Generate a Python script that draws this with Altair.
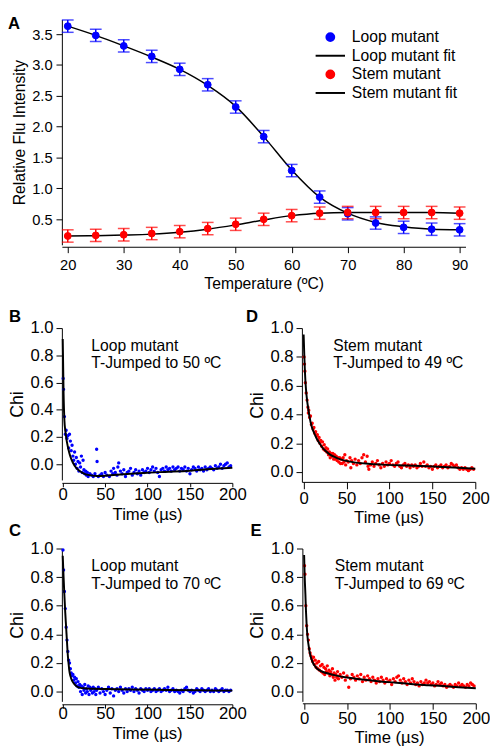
import altair as alt
import pandas as pd

FONT = "Liberation Sans"
BLUE = "#0000ff"
RED = "#ff0000"

# ---------------- Panel A data ----------------
temps = [20, 25, 30, 35, 40, 45, 50, 55, 60, 65, 70, 75, 80, 85, 90]
loop_vals = [3.63, 3.48, 3.31, 3.14, 2.93, 2.68, 2.32, 1.84, 1.29, 0.86, 0.59, 0.44, 0.37, 0.34, 0.33]
loop_err = [0.10, 0.10, 0.10, 0.10, 0.10, 0.10, 0.10, 0.10, 0.10, 0.10, 0.10, 0.10, 0.10, 0.10, 0.10]
loop_fit = [3.63, 3.48, 3.31, 3.13, 2.93, 2.67, 2.33, 1.84, 1.30, 0.86, 0.60, 0.45, 0.38, 0.34, 0.33]
stem_vals = [0.23, 0.24, 0.25, 0.27, 0.30, 0.35, 0.42, 0.50, 0.56, 0.60, 0.61, 0.61, 0.61, 0.61, 0.60]
stem_err = [0.10, 0.10, 0.10, 0.10, 0.10, 0.10, 0.10, 0.10, 0.10, 0.10, 0.10, 0.10, 0.10, 0.10, 0.10]
stem_fit = [0.23, 0.235, 0.245, 0.26, 0.29, 0.34, 0.41, 0.49, 0.56, 0.60, 0.61, 0.61, 0.61, 0.61, 0.60]
series_names = ["Loop mutant", "Stem mutant"]
legend_names = ["Loop mutant", "Loop mutant fit", "Stem mutant", "Stem mutant fit"]

# ---------------- Panel B data (Loop mutant, 50 C) ----------------
b_time = [0.5, 1, 2, 3, 4, 5, 6, 7, 8, 9, 10, 11, 12, 13, 14, 15, 16, 17, 18, 19, 20, 21, 22, 23, 24, 25,
          26, 27, 28, 29, 30, 32, 34, 36, 38, 40, 40.5, 42, 44, 46, 48, 50, 52, 55, 57, 59, 60, 62, 64, 65,
          66, 68, 70, 72, 74, 76, 78, 80, 82, 84, 86, 88, 90, 92, 94, 96, 98, 100, 102, 104, 106, 108, 110,
          112, 114, 116, 118, 120, 122, 124, 126, 128, 130, 132, 134, 136, 138, 140, 142, 144, 146, 148, 150,
          152, 154, 156, 158, 160, 162, 164, 166, 168, 170, 172, 174, 176, 178, 180, 182, 184, 186, 188, 190,
          192, 194, 196, 198]
b_chi = [0.63, 0.55, 0.35, 0.22, 0.25, 0.19, 0.21, 0.12, 0.22, 0.17, 0.10, 0.14, 0.06, 0.03, 0.09, 0.00,
         0.05, -0.03, 0.02, -0.05, 0.01, -0.02, 0.06, -0.06, 0.03, -0.04, -0.07, -0.05, -0.08, -0.06, -0.09,
         -0.07, -0.08, -0.09, -0.07, 0.11, 0.02, -0.09, -0.08, -0.07, -0.09, -0.06, -0.08, -0.09, -0.05,
         -0.07, -0.03, -0.06, -0.08, -0.02, 0.01, -0.05, -0.07, -0.04, -0.09, -0.06, -0.05, -0.03, -0.08,
         -0.06, -0.04, -0.07, -0.05, -0.08, -0.04, -0.06, -0.05, -0.03, -0.06, -0.04, -0.02, -0.05, -0.03,
         -0.06, -0.09, -0.04, -0.03, -0.05, -0.02, -0.04, -0.03, -0.05, -0.02, -0.04, -0.03, -0.02, -0.05,
         -0.03, -0.04, -0.02, -0.05, -0.03, -0.07, -0.04, -0.02, -0.03, -0.05, -0.02, -0.04, -0.03, -0.05,
         -0.02, -0.04, -0.03, -0.02, -0.03, -0.04, -0.01, -0.03, -0.02, 0.00, -0.03, -0.01, 0.00, 0.01,
         -0.02, -0.01]
b_fit_t = [0, 1, 2, 3, 4, 6, 8, 10, 14, 20, 25, 30, 40, 50, 60, 80, 100, 125, 150, 175, 200]
b_fit_chi = [0.92, 0.52, 0.32, 0.25, 0.20, 0.13, 0.077, 0.04, -0.01, -0.05, -0.068, -0.078, -0.086, -0.084,
             -0.079, -0.07, -0.062, -0.055, -0.047, -0.035, -0.025]

# ---------------- Panel C data (Loop mutant, 70 C) ----------------
c_time = [0.3, 1, 2, 3, 4, 5, 6, 7, 8, 9, 10, 11, 12, 13, 14, 15, 16, 17, 18, 19, 20, 21, 22, 23, 24, 25,
          26, 27, 28, 29, 30, 31, 32, 33, 34, 35, 36, 37, 38, 39, 40, 42, 44, 46, 48, 50, 52, 54, 56, 58, 60,
          62, 64, 66, 68, 70, 72, 74, 76, 78, 80, 82, 84, 86, 88, 90, 92, 94, 96, 98, 100, 102, 104, 106, 108,
          110, 112, 114, 116, 118, 120, 122, 124, 126, 128, 130, 132, 134, 136, 138, 140, 142, 144, 146, 148,
          150, 152, 154, 156, 158, 160, 162, 164, 166, 168, 170, 172, 174, 176, 178, 180, 182, 184, 186, 188,
          190, 192, 194, 196, 198]
c_chi = [0.99, 0.85, 0.70, 0.58, 0.45, 0.36, 0.28, 0.22, 0.20, 0.16, 0.13, 0.11, 0.12, 0.08, 0.10, 0.06,
         0.09, 0.04, 0.07, 0.03, 0.05, 0.00, 0.04, -0.02, 0.03, 0.01, 0.05, -0.01, 0.02, 0.00, 0.04, -0.02,
         0.03, 0.01, 0.02, -0.01, 0.03, 0.00, 0.02, -0.02, 0.01, 0.03, -0.01, 0.02, 0.00, -0.02, 0.01, 0.03,
         -0.01, 0.02, -0.03, 0.01, 0.02, 0.00, 0.03, 0.01, -0.01, 0.02, 0.00, 0.02, 0.01, 0.03, 0.00, 0.02,
         0.01, -0.01, 0.02, 0.01, 0.00, 0.02, 0.01, 0.02, 0.00, 0.01, 0.02, 0.00, 0.01, 0.02, 0.00, 0.01,
         0.02, 0.01, 0.03, 0.00, 0.01, 0.02, 0.00, 0.01, 0.00, -0.01, 0.01, 0.00, 0.02, 0.03, 0.01, 0.00,
         0.01, -0.01, 0.00, 0.02, 0.01, 0.00, 0.02, 0.01, 0.00, 0.01, 0.02, 0.00, 0.01, 0.00, 0.02, 0.01,
         0.00, 0.01, 0.02, 0.00, 0.01, 0.01, 0.00, 0.01]
c_fit_t = [0, 1, 1.9, 3, 3.9, 5, 5.8, 7, 7.7, 9, 11.6, 14, 17, 20, 25, 35, 52, 80, 120, 160, 200]
c_fit_chi = [0.95, 0.80, 0.68, 0.55, 0.46, 0.35, 0.27, 0.19, 0.15, 0.11, 0.07, 0.05, 0.034, 0.028, 0.023,
             0.02, 0.018, 0.015, 0.012, 0.009, 0.007]

# ---------------- Panel D data (Stem mutant, 49 C) ----------------
d_time = [0.5, 1, 1.5, 2, 3, 4, 5, 5.5, 6, 7, 8, 9, 10, 11, 12, 13, 14, 15, 16, 17, 18, 19, 20, 21, 22, 23,
          24, 25, 26, 27, 28, 29, 30, 31, 32, 33, 34, 35, 36, 37, 38, 39, 40, 41, 42, 43, 44, 45, 46, 47, 48,
          49, 50, 52, 54, 55, 56, 58, 60, 62, 64, 66, 68, 70, 72, 74, 75, 76, 78, 80, 82, 84, 86, 88, 90, 92,
          94, 96, 98, 100, 102, 104, 106, 108, 110, 112, 114, 116, 118, 120, 122, 124, 126, 128, 130, 132,
          134, 136, 138, 140, 142, 144, 146, 148, 150, 152, 154, 156, 158, 160, 162, 164, 166, 168, 170, 172,
          174, 176, 178, 180, 182, 184, 186, 188, 190, 192, 194, 196, 198]
d_chi = [0.80, 0.75, 0.70, 0.62, 0.55, 0.50, 0.45, 0.41, 0.43, 0.38, 0.39, 0.33, 0.34, 0.30, 0.31, 0.27,
         0.28, 0.25, 0.26, 0.22, 0.24, 0.20, 0.22, 0.18, 0.21, 0.16, 0.19, 0.15, 0.17, 0.14, 0.16, 0.12,
         0.14, 0.10, 0.13, 0.11, 0.13, 0.09, 0.12, 0.09, 0.11, 0.08, 0.10, 0.07, 0.10, 0.06, 0.09, 0.06,
         0.10, 0.07, 0.12, 0.05, 0.08, 0.07, 0.10, 0.03, 0.08, 0.06, 0.09, 0.05, 0.08, 0.06, 0.10, 0.12,
         0.07, 0.11, 0.04, 0.02, 0.05, 0.07, 0.04, 0.06, 0.08, 0.05, 0.03, 0.06, 0.04, 0.07, 0.05, 0.06,
         0.08, 0.05, 0.04, 0.06, 0.07, 0.04, 0.03, 0.05, 0.06, 0.04, 0.05, 0.03, 0.05, 0.04, 0.05, 0.03,
         0.04, 0.06, 0.04, 0.07, 0.04, 0.05, 0.03, 0.04, 0.02, 0.04, 0.05, 0.03, 0.04, 0.05, 0.03, 0.04,
         0.05, 0.03, 0.04, 0.06, 0.05, 0.04, 0.05, 0.03, 0.02, 0.03, 0.02, 0.03, 0.02, 0.01, 0.02, 0.03,
         0.02]
d_fit_t = [0, 0.8, 1.5, 2.7, 4, 5.4, 7, 9.2, 12, 15, 19, 22.6, 26, 30, 36, 42, 50, 61, 75, 92, 120, 145,
           175, 200]
d_fit_chi = [0.955, 0.81, 0.70, 0.58, 0.50, 0.44, 0.38, 0.32, 0.275, 0.235, 0.195, 0.165, 0.145, 0.125,
             0.105, 0.09, 0.078, 0.066, 0.058, 0.052, 0.046, 0.041, 0.032, 0.023]

# ---------------- Panel E data (Stem mutant, 69 C) ----------------
e_time = [0.5, 1, 2, 3, 4, 5, 6, 7, 8, 9, 10, 11, 12, 13, 14, 15, 16, 17, 18, 19, 20, 21, 22, 23, 24, 25,
          26, 27, 28, 29, 30, 31, 32, 33, 34, 35, 36, 37, 38, 39, 40, 42, 44, 46, 48, 50, 52, 54, 56, 58, 60,
          62, 64, 66, 68, 70, 72, 74, 76, 78, 80, 82, 84, 86, 88, 90, 92, 94, 96, 98, 100, 102, 104, 106, 108,
          110, 112, 114, 116, 118, 120, 122, 124, 126, 128, 130, 132, 134, 136, 138, 140, 142, 144, 146, 148,
          150, 152, 154, 156, 158, 160, 162, 164, 166, 168, 170, 172, 174, 176, 178, 180, 182, 184, 186, 188,
          190, 192, 194, 196, 198]
e_chi = [0.88, 0.82, 0.60, 0.46, 0.40, 0.36, 0.30, 0.27, 0.25, 0.23, 0.21, 0.24, 0.19, 0.22, 0.17, 0.20,
         0.16, 0.21, 0.15, 0.18, 0.14, 0.19, 0.13, 0.17, 0.12, 0.16, 0.14, 0.18, 0.13, 0.15, 0.11, 0.14,
         0.12, 0.16, 0.10, 0.13, 0.08, 0.12, 0.10, 0.14, 0.09, 0.12, 0.10, 0.13, 0.08, 0.11, 0.03, 0.09,
         0.12, 0.10, 0.08, 0.11, 0.09, 0.12, 0.07, 0.10, 0.08, 0.11, 0.09, 0.07, 0.10, 0.08, 0.06, 0.09,
         0.07, 0.10, 0.08, 0.06, 0.09, 0.07, 0.08, 0.05, 0.09, 0.07, 0.10, 0.11, 0.08, 0.06, 0.09, 0.07,
         0.05, 0.08, 0.06, 0.09, 0.07, 0.05, 0.06, 0.04, 0.07, 0.05, 0.06, 0.08, 0.06, 0.07, 0.05, 0.06,
         0.04, 0.05, 0.07, 0.05, 0.06, 0.04, 0.05, 0.03, 0.04, 0.05, 0.04, 0.03, 0.05, 0.04, 0.06, 0.04,
         0.05, 0.04, 0.03, 0.05, 0.04, 0.06, 0.05, 0.04]
e_fit_t = [0, 0.7, 1.5, 2.2, 3, 4, 5.3, 7, 10, 13, 17.5, 22, 29, 38, 48, 60, 75, 86, 105, 124, 145, 162,
           180, 200]
e_fit_chi = [0.955, 0.80, 0.68, 0.56, 0.46, 0.38, 0.32, 0.26, 0.205, 0.175, 0.15, 0.137, 0.125, 0.112,
             0.10, 0.09, 0.08, 0.073, 0.063, 0.053, 0.045, 0.039, 0.031, 0.023]

chi_ticks = [0.0, 0.2, 0.4, 0.6, 0.8, 1.0]
time_ticks = [0, 50, 100, 150, 200]
temp_ticks = [20, 30, 40, 50, 60, 70, 80, 90]
flu_ticks = [0.5, 1.0, 1.5, 2.0, 2.5, 3.0, 3.5]

# ---------------- Panel A ----------------
n = len(temps)
dfA = pd.DataFrame({
    "temp": temps + temps,
    "value": loop_vals + stem_vals,
    "err": loop_err + stem_err,
    "fit": loop_fit + stem_fit,
    "series": [series_names[0]] * n + [series_names[1]] * n,
})
dfA["lo"] = dfA["value"] - dfA["err"]
dfA["hi"] = dfA["value"] + dfA["err"]

xA = alt.X("temp:Q", scale=alt.Scale(domain=[18.95, 91.05], nice=False, zero=False),
           axis=alt.Axis(values=temp_ticks, title="Temperature (ºC)", offset=2, tickSize=6, labelFlush=False,
                         labelPadding=5, labelFontSize=15, titleFontSize=16, titlePadding=4))
yScaleA = alt.Scale(domain=[0.087, 3.738], nice=False, zero=False)
yAxisA = alt.Axis(values=flu_ticks, format=".1f", title="Relative Flu Intensity", tickSize=6,
                  labelPadding=4, labelFontSize=15, titleFontSize=16, titlePadding=4)
errColor = alt.Color("series:N", scale=alt.Scale(domain=series_names, range=[BLUE, RED]), legend=None)

legA = alt.Legend(title=None, orient="none", legendX=266, legendY=10, labelFontSize=16, labelFont=FONT,
                  labelColor="black", labelOffset=14, rowPadding=3, symbolStrokeWidth=2, symbolSize=64)

fitA = alt.Chart(dfA).mark_line(color="black", strokeWidth=1.5, interpolate="monotone").encode(
    x=xA, y=alt.Y("fit:Q", scale=yScaleA, axis=yAxisA), detail="series:N")
barsA = alt.Chart(dfA).mark_rule(strokeWidth=1.5).encode(
    x=xA, y=alt.Y("lo:Q", scale=yScaleA, axis=yAxisA), y2="hi:Q", color=errColor)
capLo = alt.Chart(dfA).mark_tick(orient="horizontal", size=12, thickness=1.5).encode(
    x=xA, y=alt.Y("lo:Q", scale=yScaleA, axis=yAxisA), color=errColor)
capHi = alt.Chart(dfA).mark_tick(orient="horizontal", size=12, thickness=1.5).encode(
    x=xA, y=alt.Y("hi:Q", scale=yScaleA, axis=yAxisA), color=errColor)
ptsA = alt.Chart(dfA).mark_point(filled=True, size=49, strokeWidth=1, opacity=1).encode(
    x=xA, y=alt.Y("value:Q", scale=yScaleA, axis=yAxisA),
    fill=alt.Fill("series:N", scale=alt.Scale(domain=legend_names, range=[BLUE, "black", RED, "black"]), legend=legA),
    stroke=alt.Stroke("series:N", scale=alt.Scale(domain=legend_names, range=[BLUE, "black", RED, "black"]), legend=legA),
    shape=alt.Shape("series:N", scale=alt.Scale(domain=legend_names,
                                                range=["circle", "M-3.75,0H3.75", "circle", "M-3.75,0H3.75"]),
                    legend=legA),
)
letterA = alt.Chart(pd.DataFrame({"label": ["A"]})).mark_text(
    font=FONT, fontSize=17, fontWeight="bold", align="left", baseline="top", color="black").encode(
    text="label:N", x=alt.value(-55), y=alt.value(-3))

panelA = alt.layer(fitA, barsA, capLo, capHi, ptsA, letterA).properties(width=412, height=230)


# ---------------- Panels B-E ----------------
def kinetics(time, chi, fit_t, fit_chi, color, letter, note, xdom, ydom, w, h,
             xoff, xtick, xpad, xtitlepad, letter_x, letter_y, note_x, note_y):
    df = pd.DataFrame({"t": time, "chi": chi})
    dff = pd.DataFrame({"t": fit_t, "chi": fit_chi})
    x = alt.X("t:Q", scale=alt.Scale(domain=xdom, nice=False, zero=False),
              axis=alt.Axis(values=time_ticks, title="Time (µs)", offset=xoff, tickSize=xtick, labelFlush=False,
                            labelPadding=xpad, labelFontSize=17, titleFontSize=17, titlePadding=xtitlepad))
    y = alt.Y("chi:Q", scale=alt.Scale(domain=ydom, nice=False, zero=False),
              axis=alt.Axis(values=chi_ticks, format=".1f", title="Chi", tickSize=6, labelPadding=3,
                            labelFontSize=17, titleFontSize=18, titlePadding=4))
    pts = alt.Chart(df).mark_circle(size=12, color=color, opacity=1).encode(x=x, y=y)
    fit = alt.Chart(dff).mark_line(color="black", strokeWidth=2, interpolate="monotone").encode(x=x, y=y)
    let = alt.Chart(pd.DataFrame({"label": [letter]})).mark_text(
        font=FONT, fontSize=17, fontWeight="bold", align="left", baseline="middle", color="black").encode(
        text="label:N", x=alt.value(letter_x), y=alt.value(letter_y))
    txt = alt.Chart(pd.DataFrame({"label": [note]})).mark_text(
        font=FONT, fontSize=16, align="left", baseline="top", lineBreak="\n", lineHeight=18,
        color="black").encode(text="label:N", x=alt.value(note_x), y=alt.value(note_y))
    return alt.layer(pts, fit, let, txt).properties(width=w, height=h)


panelB = kinetics(b_time, b_chi, b_fit_t, b_fit_chi, BLUE, "B", "Loop mutant\nT-Jumped to 50 ºC",
                  [-1, 200], [-0.115, 1.0], 174, 155, 3, 4, 0, 4, -54, -11, 30, 10)
panelD = kinetics(d_time, d_chi, d_fit_t, d_fit_chi, RED, "D", "Stem mutant\nT-Jumped to 49 ºC",
                  [-2, 200], [-0.068, 1.0], 177, 157, 0, 7, 2, 3, -57, -11, 32, 10)
panelC = kinetics(c_time, c_chi, c_fit_t, c_fit_chi, BLUE, "C", "Loop mutant\nT-Jumped to 70 ºC",
                  [-1, 200], [-0.068, 1.0], 174, 156, 3, 4, -2, 4, -54, -17.5, 30, 10)
panelE = kinetics(e_time, e_chi, e_fit_t, e_fit_chi, RED, "E", "Stem mutant\nT-Jumped to 69 ºC",
                  [-2, 200], [-0.068, 1.0], 177, 156, 2, 6, 2, 3, -53, -17.5, 33, 10)

row1 = alt.hconcat(panelB, panelD, spacing=-1)
row2 = alt.hconcat(panelC, panelE, spacing=1.5)
bottom = alt.vconcat(row1, row2, spacing=-3)

chart = alt.vconcat(panelA, bottom, spacing=17).properties(
    padding=0
).configure(font=FONT).configure_view(stroke=None).configure_axis(
    grid=False, domainColor="black", domainWidth=1, tickColor="black", tickWidth=1,
    labelColor="black", titleColor="black", labelFont=FONT, titleFont=FONT, titleFontWeight="normal"
)

chart.save("out.html", embed_options={"renderer": "svg", "actions": False})
